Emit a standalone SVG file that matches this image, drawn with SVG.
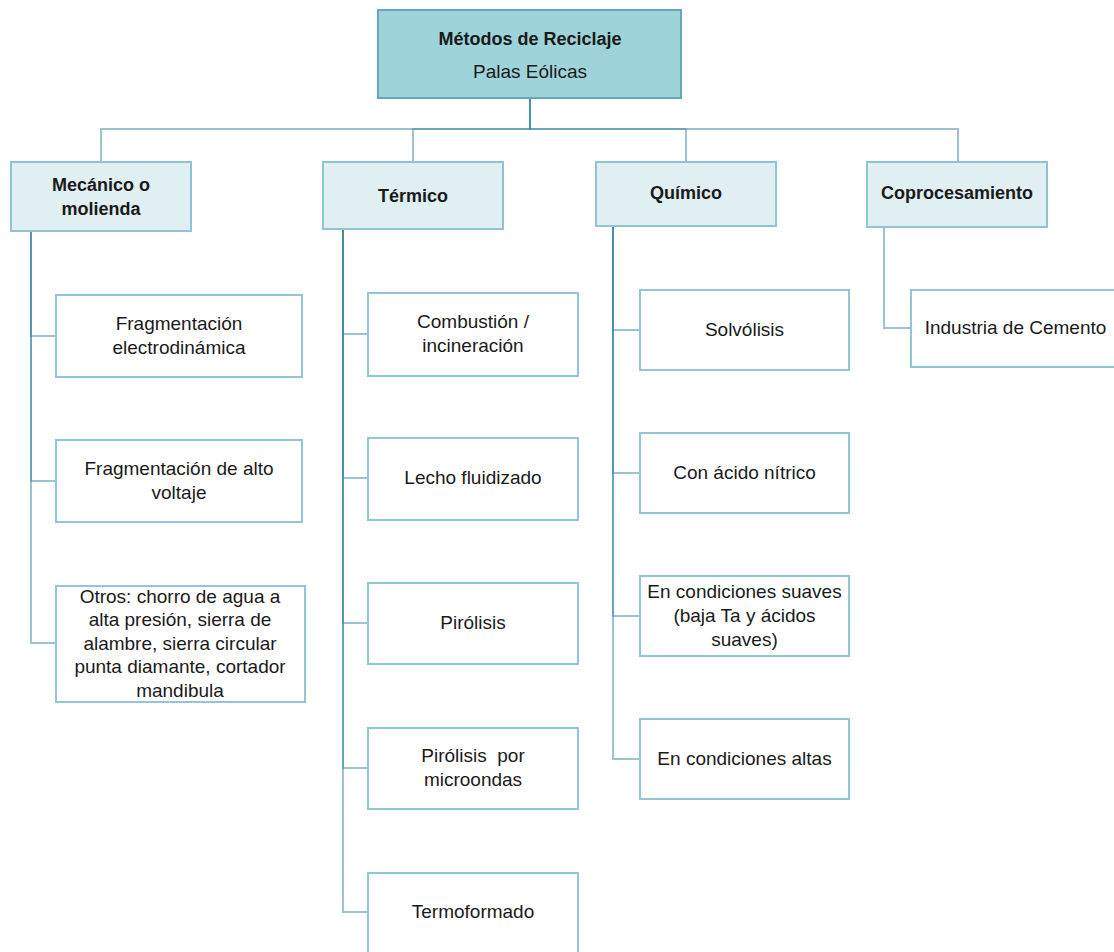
<svg xmlns="http://www.w3.org/2000/svg" width="1114" height="952" viewBox="0 0 1114 952">
<style>
.root{fill:#9dd3d9;stroke:#63a9b6;stroke-width:2}
.l1{fill:#dfeff2;stroke:#8fc4d2;stroke-width:2}
.l2{fill:#ffffff;stroke:#92c6d6;stroke-width:2}
.c{fill:none;stroke:#3b87a3;stroke-opacity:0.5;stroke-width:2}
text{font-family:"Liberation Sans",Arial,sans-serif;fill:#1a1a1a;text-anchor:middle}
.b{font-weight:bold;font-size:18px}
.t{font-size:19px}
</style>
<rect width="1114" height="952" fill="#ffffff"/>
<g id="connectors">
<path class="c" d="M530,98V129H101V162"/>
<path class="c" d="M530,98V129H413V162"/>
<path class="c" d="M530,98V129H686V162"/>
<path class="c" d="M530,98V129H958V162"/>
<path class="c" d="M31,231V336H56"/>
<path class="c" d="M31,231V481H56"/>
<path class="c" d="M31,231V643H56"/>
<path class="c" d="M343,229V334H368"/>
<path class="c" d="M343,229V478H368"/>
<path class="c" d="M343,229V623H368"/>
<path class="c" d="M343,229V768H368"/>
<path class="c" d="M343,229V912H368"/>
<path class="c" d="M613,226V330H640"/>
<path class="c" d="M613,226V473H640"/>
<path class="c" d="M613,226V616H640"/>
<path class="c" d="M613,226V759H640"/>
<path class="c" d="M884,227V328H911"/>
</g>
<g id="root"><rect class="root" x="378" y="10" width="303" height="88"/>
<text class="b" x="530" y="45">Métodos de Reciclaje</text>
<text class="t" x="530" y="78">Palas Eólicas</text></g>
<g id="mecanico"><rect class="l1" x="11" y="162" width="180" height="69"/>
<text class="b" x="101" y="191">Mecánico o</text><text class="b" x="101" y="215">molienda</text></g>
<g id="termico"><rect class="l1" x="323" y="162" width="180" height="67"/>
<text class="b" x="413" y="202">Térmico</text></g>
<g id="quimico"><rect class="l1" x="596" y="162" width="180" height="64"/>
<text class="b" x="686" y="199">Químico</text></g>
<g id="coprocesamiento"><rect class="l1" x="867" y="162" width="180" height="65"/>
<text class="b" x="957" y="199">Coprocesamiento</text></g>
<g id="frag-electro"><rect class="l2" x="56" y="295" width="246" height="82"/>
<text class="t" x="179" y="330">Fragmentación</text><text class="t" x="179" y="354">electrodinámica</text></g>
<g id="frag-alto"><rect class="l2" x="56" y="440" width="246" height="82"/>
<text class="t" x="179" y="475">Fragmentación de alto</text><text class="t" x="179" y="499">voltaje</text></g>
<g id="otros"><rect class="l2" x="56" y="586" width="249" height="116"/>
<text class="t" x="180" y="603">Otros: chorro de agua a</text>
<text class="t" x="180" y="626">alta presión, sierra de</text>
<text class="t" x="180" y="650">alambre, sierra circular</text>
<text class="t" x="180" y="673">punta diamante, cortador</text>
<text class="t" x="180" y="697">mandibula</text></g>
<g id="combustion"><rect class="l2" x="368" y="293" width="210" height="83"/>
<text class="t" x="473" y="328">Combustión /</text><text class="t" x="473" y="352">incineración</text></g>
<g id="lecho"><rect class="l2" x="368" y="438" width="210" height="82"/>
<text class="t" x="473" y="484">Lecho fluidizado</text></g>
<g id="pirolisis"><rect class="l2" x="368" y="583" width="210" height="81"/>
<text class="t" x="473" y="629">Pirólisis</text></g>
<g id="pirolisis-micro"><rect class="l2" x="368" y="728" width="210" height="81"/>
<text class="t" x="473" y="762" xml:space="preserve">Pirólisis  por</text><text class="t" x="473" y="786">microondas</text></g>
<g id="termoformado"><rect class="l2" x="368" y="873" width="210" height="90"/>
<text class="t" x="473" y="918">Termoformado</text></g>
<g id="solvolisis"><rect class="l2" x="640" y="290" width="209" height="80"/>
<text class="t" x="744.5" y="336">Solvólisis</text></g>
<g id="nitrico"><rect class="l2" x="640" y="433" width="209" height="80"/>
<text class="t" x="744.5" y="479">Con ácido nítrico</text></g>
<g id="suaves"><rect class="l2" x="640" y="576" width="209" height="80"/>
<text class="t" x="744.5" y="598">En condiciones suaves</text>
<text class="t" x="744.5" y="622">(baja Ta y ácidos</text>
<text class="t" x="744.5" y="646">suaves)</text></g>
<g id="altas"><rect class="l2" x="640" y="719" width="209" height="80"/>
<text class="t" x="744.5" y="765">En condiciones altas</text></g>
<g id="cemento"><rect class="l2" x="911" y="290" width="209" height="77"/>
<text class="t" x="1015.5" y="334">Industria de Cemento</text></g>
</svg>
